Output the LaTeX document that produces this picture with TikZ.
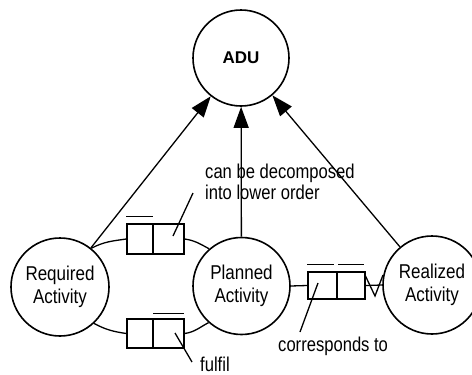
\documentclass[tikz,border=0pt]{standalone}
\usepackage{fontspec}
\newfontfamily\nsf{Liberation Sans}[FakeStretch=0.85]
\newfontfamily\lsf{Liberation Sans}[FakeStretch=0.83]
\newfontfamily\hsf{Liberation Sans}
\usetikzlibrary{arrows.meta}
\begin{document}
\begin{tikzpicture}[x=1pt,y=1pt,
  ent/.style={circle, draw, line width=1.6pt, inner sep=0pt, align=center,
    font=\nsf\fontsize{20}{23}\selectfont},
  arr/.style={-{Triangle[length=21pt,width=15pt]}, line width=1.3pt},
  ln/.style={line width=1.3pt},
  cell/.style={draw, line width=1.3pt, inner sep=0pt},
  ovl/.style={line width=1.2pt},
  lbl/.style={anchor=base west, inner sep=0pt,
    font=\lsf\fontsize{20}{21}\selectfont}]
\useasboundingbox (0,0) rectangle (472,-375);
\clip (0,0) rectangle (472,-375);

% entities
\node[ent, minimum size=96pt, font=\hsf\bfseries\fontsize{17}{20}\selectfont] (adu) at (241,-58) {ADU};
\node[ent, minimum size=98pt] (req) at (60,-287) {Required\\Activity};
\node[ent, minimum size=97pt] (plan) at (241.5,-286) {Planned\\Activity};
\node[ent, minimum size=98pt] (real) at (432,-285) {Realized\\Activity};

% arrows to ADU
\draw[arr] (req) -- (adu);
\draw[arr] (plan) -- (adu);
\draw[arr] (real) -- (adu);

% upper relationship box
\node[cell, minimum width=26pt, minimum height=30pt] (t1) at (140,-239) {};
\node[cell, minimum width=31pt, minimum height=30pt] (t2) at (168.5,-239) {};
\draw[ovl] ([yshift=7pt]t1.north west) -- ([yshift=7pt,xshift=-1pt]t1.north east);

% lower relationship box
\node[cell, minimum width=26pt, minimum height=29pt] (b1) at (140,-333.5) {};
\node[cell, minimum width=31pt, minimum height=29pt] (b2) at (168.5,-333.5) {};
\draw[ovl] ([yshift=5pt,xshift=1pt]b2.north west) -- ([yshift=5pt,xshift=-1pt]b2.north east);

% right relationship box
\node[cell, minimum width=29pt, minimum height=27pt] (r1) at (322.5,-285.5) {};
\node[cell, minimum width=28pt, minimum height=27pt] (r2) at (351,-285.5) {};
\draw[ovl] ([yshift=7pt]r1.north west) -- ([yshift=7pt,xshift=-4pt]r1.north east);
\draw[ovl] ([yshift=7pt,xshift=2pt]r2.north west) -- ([yshift=7pt,xshift=-2pt]r2.north east);

% arcs between Required and Planned
\draw[ln] (req.51) to[out=28,in=188] (t1.west);
\draw[ln] (t2.east) to[out=-8,in=152] (plan.131);
\draw[ln] (req.-47) to[out=-28,in=172] (b1.west);
\draw[ln] (b2.east) to[out=8,in=208] (plan.228);

% Planned -- right box -- Realized
\draw[ln] (plan.east) -- (r1.west);
\draw[ln] (r2.east) -- (real.west);
\coordinate (vtop) at (365,-275);
\coordinate (vbot) at (375,-296);
\coordinate (vend) at (383,-275);
\draw[ln] (vtop) -- (vbot) -- (vend);

% leader lines
\coordinate (l1a) at (173,-236);
\coordinate (l1b) at (193,-193);
\draw[ln] (l1a) -- (l1b);
\coordinate (l2a) at (175,-333);
\coordinate (l2b) at (192,-362);
\draw[ln] (l2a) -- (l2b);
\coordinate (l3a) at (318,-283);
\coordinate (l3b) at (300,-332);
\draw[ln] (l3a) -- (l3b);

% labels
\node[lbl] (tdec1) at (205,-178) {can be decomposed};
\node[lbl] (tdec2) at (205,-199) {into lower order};
\node[lbl] (tful) at (200,-371) {fulfil};
\node[lbl] (tcor) at (278,-351) {corresponds to};
\end{tikzpicture}
\end{document}
